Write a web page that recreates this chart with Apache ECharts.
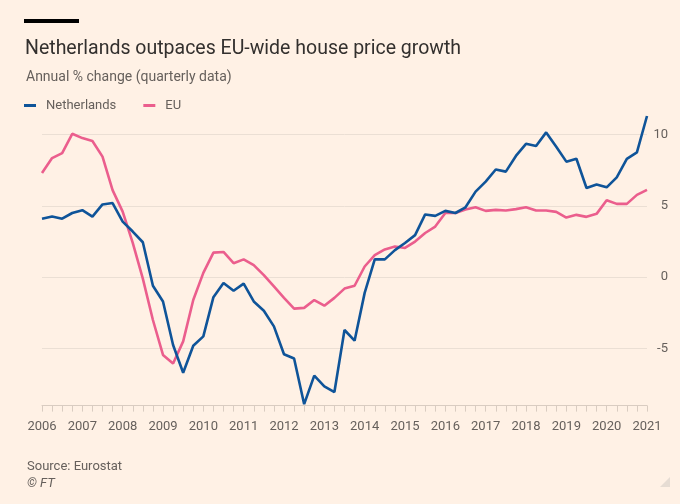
<!DOCTYPE html>
<html>
<head>
<meta charset="utf-8">
<script src="https://cdn.jsdelivr.net/npm/echarts@6/dist/echarts.min.js"></script>
<style>
html,body{margin:0;padding:0;background:#FFF1E5;}
#c{width:680px;height:504px;}
</style>
</head>
<body>
<div id="c"></div>
<script>
// Data: quarterly annual % change, 2006 Q1 .. 2021 Q1
const years = ['2006','2007','2008','2009','2010','2011','2012','2013','2014','2015','2016','2017','2018','2019','2020','2021'];
const quarters = [];
years.forEach(function (y, idx) {
  if (idx < years.length - 1) { ['Q1','Q2','Q3','Q4'].forEach(function (q) { quarters.push(y + ' ' + q); }); }
  else { quarters.push(y + ' Q1'); }
});
const netherlands = [
  4.1, 4.25, 4.1, 4.5, 4.7, 4.25, 5.1, 5.2, 3.9, 3.2,
  2.45, -0.6, -1.7, -4.75, -6.7, -4.8, -4.15, -1.4, -0.4, -0.95,
  -0.45, -1.7, -2.35, -3.45, -5.4, -5.7, -8.9, -6.9, -7.65, -8.05,
  -3.7, -4.45, -1.1, 1.25, 1.25, 1.9, 2.4, 2.95, 4.4, 4.3,
  4.65, 4.5, 4.9, 6.0, 6.7, 7.55, 7.4, 8.5, 9.35, 9.2,
  10.15, 9.15, 8.1, 8.3, 6.25, 6.5, 6.3, 7.0, 8.3, 8.75,
  11.3
];
const eu = [
  7.3, 8.35, 8.7, 10.05, 9.75, 9.55, 8.45, 6.1, 4.6, 2.4,
  -0.1, -3.0, -5.45, -6.05, -4.5, -1.6, 0.3, 1.72, 1.77, 0.98,
  1.25, 0.85, 0.15, -0.65, -1.45, -2.2, -2.15, -1.6, -2.0, -1.45,
  -0.8, -0.6, 0.75, 1.55, 1.95, 2.15, 2.05, 2.5, 3.1, 3.55,
  4.5, 4.5, 4.75, 4.9, 4.65, 4.72, 4.67, 4.77, 4.9, 4.67,
  4.67, 4.58, 4.18, 4.37, 4.23, 4.44, 5.4, 5.14, 5.14, 5.77,
  6.12
];
const yTicks = [-5, 0, 5, 10];

const chart = echarts.init(document.getElementById('c'), null, {renderer: 'canvas'});
const font = 'Roboto, "Liberation Sans", sans-serif';
chart.setOption({
  backgroundColor: '#FFF1E5',
  animation: false,
  textStyle: {fontFamily: font},
  graphic: [
    {type: 'rect', left: 24, top: 19, shape: {width: 55, height: 4}, style: {fill: '#000000'}},
    {type: 'polygon', shape: {points: [[670, 477], [670, 487], [660, 487]]}, style: {fill: '#E6DCD3'}}
  ],
  title: [
    {text: 'Netherlands outpaces EU-wide house price growth', left: 20, top: 34,
     textStyle: {fontFamily: font, fontSize: 19.5, fontWeight: 'normal', color: '#33302E'}},
    {text: 'Annual % change (quarterly data)', left: 21, top: 65,
     textStyle: {fontFamily: font, fontSize: 14, fontWeight: 'normal', color: '#66605C'}},
    {text: 'Source: Eurostat', left: 22, top: 455,
     textStyle: {fontFamily: font, fontSize: 13, fontWeight: 'normal', color: '#66605C'}},
    {text: '© FT', left: 22, top: 472,
     textStyle: {fontFamily: font, fontSize: 13, fontWeight: 'normal', fontStyle: 'italic', color: '#66605C'}}
  ],
  legend: {
    left: 19, top: 94, icon: 'rect', itemWidth: 12, itemHeight: 3, itemGap: 27,
    textStyle: {fontFamily: font, fontSize: 13, color: '#66605C', padding: [0, 0, 0, 5]},
    data: ['Netherlands', 'EU']
  },
  grid: {left: 42, right: 33, top: 106, bottom: 98.4, containLabel: false},
  xAxis: {
    type: 'category', data: quarters, boundaryGap: false,
    axisLine: {show: true, onZero: false, lineStyle: {color: '#D9CCC1', width: 1}},
    axisTick: {show: true, interval: 0, length: 6, lineStyle: {color: '#D9CCC1'}},
    axisLabel: {
      interval: function (i) { return i % 4 === 0; },
      formatter: function (v) { return v.slice(0, 4); },
      color: '#66605C', fontSize: 13, margin: 15, fontFamily: font
    },
    splitLine: {show: false}
  },
  yAxis: {
    type: 'value', position: 'right', min: -9, max: 12,
    axisLine: {show: false}, axisTick: {show: false, customValues: yTicks},
    axisLabel: {customValues: yTicks, align: 'right', margin: 21, color: '#66605C', fontSize: 13, fontFamily: font},
    splitLine: {show: true, lineStyle: {color: '#EBDFD4', width: 1}}
  },
  series: [
    {name: 'Netherlands', type: 'line', data: netherlands, symbol: 'none',
     lineStyle: {color: '#0F5499', width: 2.6}, itemStyle: {color: '#0F5499'}, z: 3},
    {name: 'EU', type: 'line', data: eu, symbol: 'none',
     lineStyle: {color: '#EB5E8D', width: 2.6}, itemStyle: {color: '#EB5E8D'}, z: 2}
  ]
});
</script>
</body>
</html>
